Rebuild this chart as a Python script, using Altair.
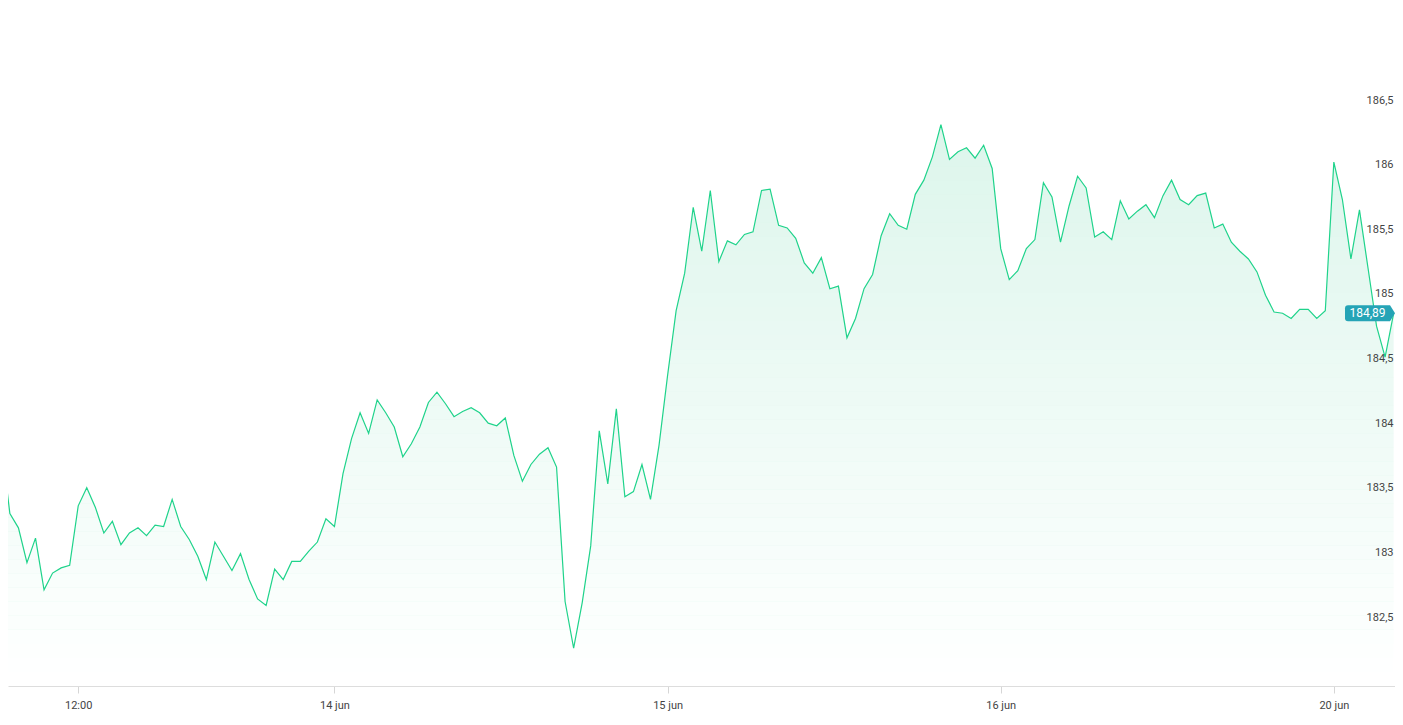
import altair as alt
import numpy as np
import pandas as pd

# ---- data (one point per 10-min bar, index k) ----
price = [183.85, 183.30, 183.19, 182.92, 183.11, 182.71, 182.84, 182.88, 182.90, 183.36,
         183.50, 183.35, 183.15, 183.24, 183.06, 183.15, 183.19, 183.13, 183.21, 183.20,
         183.41, 183.20, 183.10, 182.97, 182.79, 183.08, 182.97, 182.86, 182.99, 182.79,
         182.64, 182.59, 182.87, 182.79, 182.93, 182.93, 183.01, 183.08, 183.26, 183.20,
         183.61, 183.88, 184.08, 183.92, 184.18, 184.08, 183.97, 183.74, 183.84, 183.97,
         184.16, 184.24, 184.15, 184.05, 184.09, 184.12, 184.08, 184.00, 183.98, 184.04,
         183.75, 183.55, 183.68, 183.76, 183.81, 183.66, 182.62, 182.26, 182.61, 183.05,
         183.94, 183.53, 184.11, 183.43, 183.47, 183.68, 183.41, 183.83, 184.37, 184.87,
         185.16, 185.67, 185.33, 185.80, 185.25, 185.41, 185.38, 185.46, 185.48, 185.80,
         185.81, 185.53, 185.51, 185.43, 185.24, 185.16, 185.28, 185.04, 185.06, 184.66,
         184.81, 185.04, 185.15, 185.45, 185.62, 185.53, 185.50, 185.77, 185.88, 186.06,
         186.31, 186.04, 186.10, 186.13, 186.05, 186.15, 185.97, 185.35, 185.11, 185.18,
         185.35, 185.42, 185.86, 185.75, 185.40, 185.68, 185.91, 185.82, 185.44, 185.48,
         185.42, 185.72, 185.58, 185.64, 185.69, 185.59, 185.76, 185.88, 185.73, 185.69,
         185.76, 185.78, 185.51, 185.54, 185.40, 185.33, 185.27, 185.17, 184.99, 184.86,
         184.85, 184.81, 184.88, 184.88, 184.81, 184.87, 186.02, 185.73, 185.27, 185.65,
         185.20, 184.75, 184.51, 184.85]
bar_index = list(range(-1, len(price) - 1))

tick_positions = [8, 38, 77, 116, 155]
tick_labels = ["12:00", "14 jun", "15 jun", "16 jun", "20 jun"]

y_ticks = [182.5, 183, 183.5, 184, 184.5, 185, 185.5, 186, 186.5]
last_label = "184,89"

W, H = 1387, 678
Y_MIN, Y_MAX = 181.9662, 187.2118
LINE = "#1fd38b"
FILL_TOP = "#ddf6ec"
TAG = "#25a4b6"

df = pd.DataFrame({"k": bar_index, "price": price})
df_last = pd.DataFrame({"price": [price[-1]], "label": [last_label]})

# fade of the fill: white veil bands, transparent at the series top, opaque at the floor
n_bands = 40
top = max(price)
edges = np.linspace(Y_MIN, top, n_bands + 1)
bands = pd.DataFrame({"lo": edges[:-1], "hi": edges[1:]})
bands["op"] = 1 - ((bands["lo"] + bands["hi"]) / 2 - Y_MIN) / (top - Y_MIN)

label_expr = ""
for pos, lab in zip(tick_positions, tick_labels):
    label_expr += f"datum.value == {pos} ? '{lab}' : "
label_expr += "''"

xscale = alt.Scale(domain=[-0.22, 162.16], nice=False, zero=False)
yscale = alt.Scale(domain=[Y_MIN, Y_MAX], nice=False, zero=False)

x_enc = alt.X("k:Q", scale=xscale,
              axis=alt.Axis(values=tick_positions, labelExpr=label_expr, title=None,
                            grid=False, domainColor="#dddddd", tickColor="#d6d6d6",
                            tickSize=7, labelPadding=6, labelFontSize=11,
                            labelColor="#444444", labelFont="Roboto", labelFlush=False,
                            zindex=1))
y_enc = alt.Y("price:Q", scale=yscale,
              axis=alt.Axis(orient="right", values=y_ticks, title=None, grid=False,
                            domain=False, ticks=False, offset=-2, labelPadding=0,
                            labelAlign="right", labelBaseline="middle",
                            labelExpr="replace(format(datum.value, '~r'), '.', ',')",
                            labelFontSize=11, labelColor="#444444", labelFont="Roboto",
                            zindex=1))

area = alt.Chart(df).mark_area(clip=True, color=FILL_TOP, opacity=1).encode(x=x_enc, y=y_enc)

veil = alt.Chart(bands).mark_rect(color="white", clip=True).encode(
    x=alt.value(0), x2=alt.value(W),
    y=alt.Y("hi:Q", scale=yscale), y2="lo:Q",
    opacity=alt.Opacity("op:Q", scale=None, legend=None))

line = alt.Chart(df).mark_line(clip=True, color=LINE, strokeWidth=1.2).encode(
    x=alt.X("k:Q", scale=xscale), y=alt.Y("price:Q", scale=yscale))

tag_shape = ("M -0.88 -0.32 L 0.8 -0.32 L 1 0 L 0.8 0.32 L -0.88 0.32 "
             "Q -1 0.32 -1 0.2 L -1 -0.2 Q -1 -0.32 -0.88 -0.32 Z")
tag = alt.Chart(df_last).mark_point(shape=tag_shape, filled=True, size=2500,
                                    color=TAG, opacity=1, strokeWidth=0).encode(
    x=alt.value(W - 25), y=alt.Y("price:Q", scale=yscale))

tag_text = alt.Chart(df_last).mark_text(color="white", fontSize=12, font="Roboto",
                                        align="center", baseline="middle").encode(
    x=alt.value(W - 27.5), y=alt.Y("price:Q", scale=yscale), text="label:N")

chart = alt.layer(area, veil, line, tag, tag_text).properties(
    width=W, height=H,
    autosize=alt.AutoSizeParams(type="none"),
    padding={"left": 0, "top": 0, "right": 0, "bottom": 28},
).configure_view(stroke=None)

chart.save("out.html", embed_options={"renderer": "svg", "actions": False})
